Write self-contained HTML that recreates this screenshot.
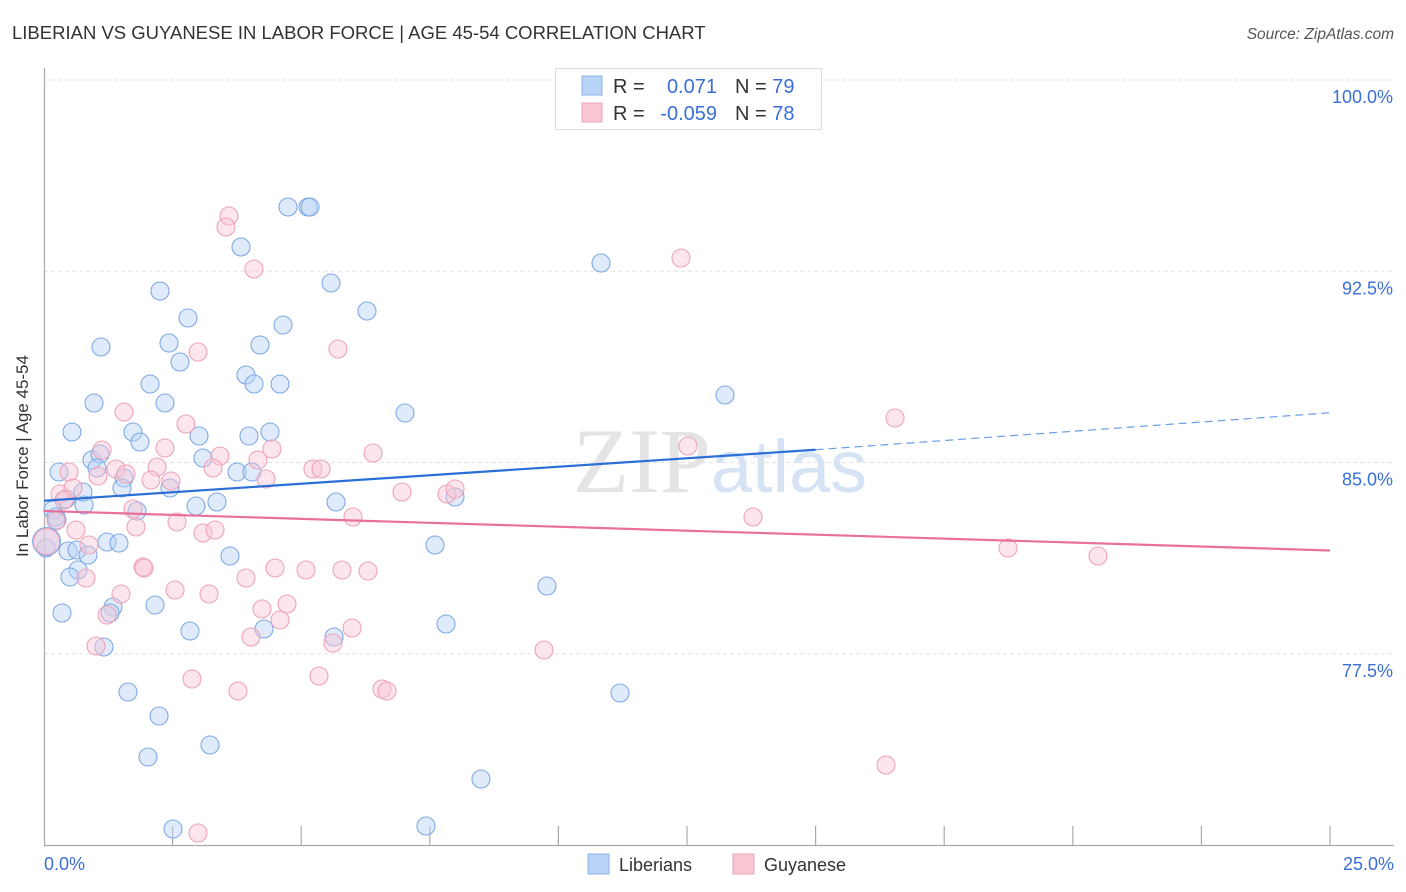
<!DOCTYPE html>
<html><head><meta charset="utf-8"><style>
body{margin:0;background:#fff;font-family:"Liberation Sans",sans-serif;}
#wrap{position:relative;width:1406px;height:892px;overflow:hidden;}
</style></head><body>
<div id="wrap">
<svg id="svg" width="1406" height="892" xmlns="http://www.w3.org/2000/svg" font-family="Liberation Sans, sans-serif">
<text x="12" y="39" font-size="18.5" fill="#333">LIBERIAN VS GUYANESE IN LABOR FORCE | AGE 45-54 CORRELATION CHART</text>
<text x="1394" y="39" font-size="15.5" fill="#555" font-style="italic" text-anchor="end">Source: ZipAtlas.com</text>
<text x="720" y="492" font-size="92" fill="#e4e4e4" text-anchor="middle" font-family="Liberation Serif, serif">ZIP<tspan fill="#d6e3f5" font-family="Liberation Sans, sans-serif" font-size="74">atlas</tspan></text>
<g id="grid"></g>
<g id="axes"></g>
<g id="marks"></g>
<text x="28" y="456" font-size="17" fill="#333" text-anchor="middle" transform="rotate(-90 28 456)">In Labor Force | Age 45-54</text>
<text x="44" y="870" font-size="18" fill="#3a6fd8">0.0%</text>
<text x="1394" y="870" font-size="18" fill="#3a6fd8" text-anchor="end">25.0%</text>
<g>
<rect x="555.5" y="68.5" width="266" height="61" fill="#fff" stroke="#ddd"/>
<rect x="582" y="76" width="20" height="19" fill="#b8d3f5" stroke="#8ab2e8"/>
<rect x="582" y="103" width="20" height="19" fill="#f9c6d4" stroke="#eea3b9"/>
<text x="613" y="93" font-size="20" fill="#333">R =</text>
<text x="717" y="93" font-size="20" fill="#3a6fd8" text-anchor="end">0.071</text>
<text x="735" y="93" font-size="20" fill="#333">N = <tspan fill="#3a6fd8">79</tspan></text>
<text x="613" y="120" font-size="20" fill="#333">R =</text>
<text x="717" y="120" font-size="20" fill="#3a6fd8" text-anchor="end">-0.059</text>
<text x="735" y="120" font-size="20" fill="#333">N = <tspan fill="#3a6fd8">78</tspan></text>
</g>
<g>
<rect x="588" y="854" width="21" height="20" fill="#b8d3f5" stroke="#8ab2e8"/>
<text x="619" y="871" font-size="18" fill="#333">Liberians</text>
<rect x="733" y="854" width="21" height="20" fill="#f9c6d4" stroke="#eea3b9"/>
<text x="764" y="871" font-size="18" fill="#333">Guyanese</text>
</g>
</svg>
</div>
<script>
const yTicks=[100,92.5,85,77.5];
const yTickLabels=["100.0%","92.5%","85.0%","77.5%"];
const xTicks=[2.5,5,7.5,10,12.5,15,17.5,20,22.5,25];
const bluePx=[[288,207],[308,207],[310,207],[241,247],[601,263],[331,283],[160,291],[367,311],[188,318],[283,325],[101,347],[169,343],[260,345],[180,362],[246,375],[254,384],[280,384],[150,384],[94,403],[165,403],[405,413],[725,395],[72,432],[133,432],[140,442],[199,436],[249,436],[270,432],[59,472],[92,460],[100,454],[97,468],[203,458],[237,472],[252,472],[124,478],[122,488],[170,488],[66,499],[84,505],[83,492],[217,502],[196,506],[336,502],[455,497],[53,510],[56,517],[137,511],[57,520],[68,551],[77,550],[88,555],[107,542],[119,543],[230,556],[435,545],[78,570],[70,577],[547,586],[62,613],[113,607],[110,613],[155,605],[190,631],[264,629],[334,637],[446,624],[104,647],[128,692],[620,693],[159,716],[210,745],[148,757],[481,779],[173,829],[426,826],[46,548]];
const pinkPx=[[229,216],[226,227],[254,269],[681,258],[338,349],[198,352],[895,418],[124,412],[186,424],[688,446],[102,450],[165,448],[220,456],[258,460],[272,449],[373,453],[69,472],[98,476],[116,469],[126,474],[157,467],[151,480],[171,481],[213,468],[266,479],[313,469],[321,469],[60,494],[73,488],[64,500],[402,492],[447,494],[455,489],[133,509],[56,521],[76,530],[136,527],[177,522],[203,533],[215,530],[353,517],[753,517],[89,545],[1008,548],[1098,556],[143,567],[144,568],[246,578],[275,568],[306,570],[342,570],[368,571],[86,578],[175,590],[209,594],[121,594],[107,615],[262,609],[287,604],[280,620],[352,628],[251,637],[333,643],[96,646],[544,650],[319,676],[192,679],[238,691],[382,689],[387,691],[886,765],[198,833]];
const blueX=bluePx.map(p=>+((p[0]-44)/1286*25).toFixed(3));
const blueY=bluePx.map(p=>+(100-(p[1]-80)/25.5).toFixed(3));
const pinkX=pinkPx.map(p=>+((p[0]-44)/1286*25).toFixed(3));
const pinkY=pinkPx.map(p=>+(100-(p[1]-80)/25.5).toFixed(3));
const blueTrend=[[0,83.5],[15,85.5],[25,86.95]];
const pinkTrend=[[0,83.1],[25,81.55]];
const NS="http://www.w3.org/2000/svg";
function X(v){return 44+v/25*1286;}
function Y(v){return 80+(100-v)*25.5;}
function mk(tag,attrs,parent){const e=document.createElementNS(NS,tag);for(const k in attrs)e.setAttribute(k,attrs[k]);parent.appendChild(e);return e;}
const grid=document.getElementById('grid'),axes=document.getElementById('axes'),marks=document.getElementById('marks');
yTicks.forEach((t,i)=>{
 const l=mk('line',{x1:44,x2:1394,y1:Y(t),y2:Y(t),stroke:'#e2e2e2','stroke-dasharray':'4,3'},grid);
 
 
 const tx=mk('text',{x:1393,y:Y(t)+23,'font-size':18,fill:'#3a6fd8','text-anchor':'end'},grid);
 tx.textContent=yTickLabels[i];
 
 
});
const ax=mk('path',{d:`M44.5 68V845.5H1394`,fill:'none',stroke:'#aaa','stroke-width':1.2},axes);


xTicks.forEach(t=>{
 const l=mk('line',{x1:X(t),x2:X(t),y1:826,y2:845,stroke:'#aaa','stroke-width':1.2},axes);
 
 
});
function pts(xs,ys,fill,stroke,name){
 xs.forEach((x,i)=>{
  const c=mk('circle',{cx:X(x),cy:Y(ys[i]),r:9,fill:fill,'fill-opacity':0.45,stroke:stroke,'stroke-width':1.1},marks);
  
  
 });
}
pts(blueX,blueY,'#b8d3f5','#7fa9e6','liberian-point');
pts(pinkX,pinkY,'#f9c6d4','#eea3b9','guyanese-point');
const big1=mk('circle',{cx:X(0.05),cy:Y(81.9),r:14,fill:'#b8d3f5','fill-opacity':0.45,stroke:'#7fa9e6'},marks);


const big2=mk('circle',{cx:X(0.05),cy:Y(81.9),r:13,fill:'#f9c6d4','fill-opacity':0.45,stroke:'#eea3b9'},marks);


const bt=mk('line',{x1:X(blueTrend[0][0]),y1:Y(blueTrend[0][1]),x2:X(blueTrend[1][0]),y2:Y(blueTrend[1][1]),stroke:'#2a6fd6','stroke-width':2.2},marks);


const bd=mk('line',{x1:X(blueTrend[1][0]),y1:Y(blueTrend[1][1]),x2:X(blueTrend[2][0]),y2:Y(blueTrend[2][1]),stroke:'#6a9ee6','stroke-width':1.2,'stroke-dasharray':'8,5'},marks);


const pt=mk('line',{x1:X(pinkTrend[0][0]),y1:Y(pinkTrend[0][1]),x2:X(pinkTrend[1][0]),y2:Y(pinkTrend[1][1]),stroke:'#e8709a','stroke-width':2.2},marks);


</script>
</body></html>
